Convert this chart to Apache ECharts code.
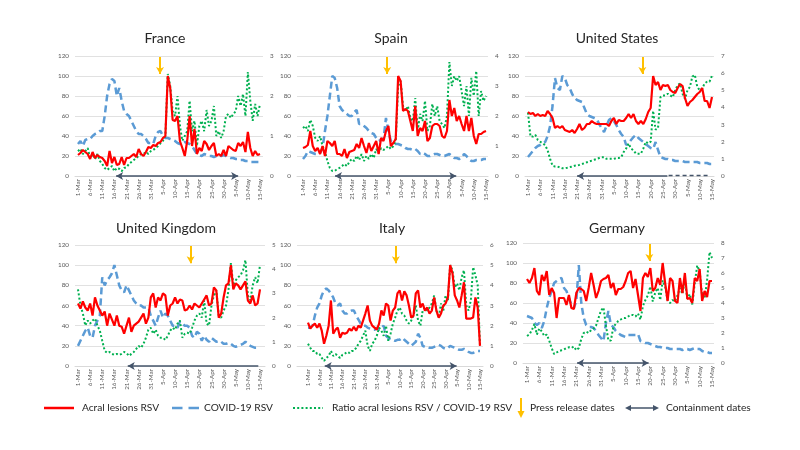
<!DOCTYPE html>
<html><head><meta charset="utf-8">
<script src="https://cdn.jsdelivr.net/npm/echarts@6/dist/echarts.min.js"></script>
<style>html,body{margin:0;padding:0;background:#fff}#c{width:800px;height:450px}</style>
</head><body><div id="c"></div>
<script>
// ---- categories (daily, 1-Mar .. 15-May) ----
const months = [['Mar', 31], ['Apr', 30], ['May', 15]];
const categories = [];
months.forEach(([m, n]) => { for (let d = 1; d <= n; d++) categories.push(d + '-' + m); });
const tickLabels = categories.filter((c, i) => i % 5 === 0);
const tickIdx = tickLabels.map(t => categories.indexOf(t));

const countries = ['France', 'Spain', 'United States', 'United Kingdom', 'Italy', 'Germany'];
const leftMax = 120, leftStep = 20;
const ratioMax = [3, 4, 7, 5, 6, 8];

// ---- series values ----
const franceAcral = [21,23,26,24,22, 17,24,18,21,19, 18,15,10,25,13, 19,11,12,19,11, 18,18,20,22,19, 27,22,20,24,29, 28,31,30,33,34, 38,40,100,88,56, 55,60,35,28,20, 35,60,30,47,22, 28,25,35,32,26, 30,33,20,22,20, 26,20,30,28,26, 25,33,30,34,24, 44,28,20,25,21, 22];
const franceCovid = [32,35,30,36,37, 37,40,42,43,45, 45,60,80,92,97, 95,80,88,75,65, 62,60,55,50,45, 42,42,40,37,33, 33,32,40,44,45, 40,38,38,37,36, 35,33,32,33,34, 33,32,30,26,22, 21,20,22,21,20, 20,19,20,21,20, 21,20,19,18,18, 17,17,16,16,15, 15,14,14,14,14, 14];
const franceRatio = [0.62,0.68,0.55,0.62,0.7, 0.45,0.55,0.42,0.55,0.38, 0.3,0.2,0.15,0.2,0.25, 0.12,0.2,0.18,0.12,0.2, 0.22,0.3,0.35,0.4,0.45, 0.5,0.55,0.55,0.6,0.55, 0.62,0.65,0.7,0.75,0.82, 0.88,1.0,2.55,2.25,1.62, 1.5,2.0,1.25,0.88,1.0, 1.12,1.88,1.12,1.38,0.75, 1.25,1.38,1.12,1.65,1.25, 1.38,1.75,1.0,1.12,0.95, 1.12,1.5,1.55,1.45,1.55, 1.62,2.0,1.75,2.05,1.5, 2.6,1.88,1.38,1.8,1.5, 1.8];

const spainAcral = [28,29,31,45,30, 25,28,22,30,20, 35,33,30,35,22, 22,20,27,18,24, 25,26,32,28,38, 30,23,33,25,30, 35,22,38,35,45, 50,30,33,37,100, 95,65,67,65,55, 45,70,40,48,45, 55,35,38,50,52, 52,50,40,38,45, 76,60,68,55,60, 52,45,60,45,58, 40,32,42,42,44, 45];
const spainCovid = [17,20,25,24,23, 22,22,23,28,45, 60,80,100,98,88, 70,66,64,62,60, 60,64,66,52,52, 50,48,45,43,42, 38,35,36,37,58, 45,35,33,32,32, 31,30,28,27,27, 26,27,25,22,23, 22,20,20,21,22, 22,21,20,20,21, 22,20,18,18,17, 18,22,20,17,15, 15,16,16,16,17, 17];
const spainRatio = [1.6,1.67,1.5,1.87,1.67, 1.27,1.17,1.33,1.0,0.83, 0.5,0.27,0.17,0.17,0.23, 0.27,0.33,0.4,0.33,0.47, 0.57,0.5,0.67,0.53,0.73, 0.5,0.67,0.57,0.73,0.6, 0.9,0.77,0.93,0.87,0.93, 1.0,0.9,1.0,1.17,3.0, 3.17,2.33,2.17,2.33,1.93, 1.83,2.6,1.5,2.07,1.83, 2.5,1.5,1.67,2.4,2.0, 2.33,1.83,1.73,1.6,2.0, 3.8,3.0,3.33,3.17,3.33, 2.83,2.33,3.0,2.0,3.27, 2.67,3.5,2.0,2.83,2.5, 2.67];

const usAcral = [64,62,63,60,62, 60,61,60,65,62, 58,48,50,48,50, 46,45,44,46,43, 47,52,46,48,52, 52,55,53,52,52, 52,52,52,50,55, 58,52,56,55,55, 58,62,58,62,55, 52,55,52,57,64, 68,100,91,94,86, 91,90,91,86,84, 83,88,92,90,78, 70,74,76,79,82, 84,88,75,75,68, 79];
const usCovid = [19,22,25,28,30, 31,33,34,40,50, 70,98,88,86,100, 98,91,88,82,78, 76,75,74,68,62, 60,59,58,57,52, 48,44,50,56,58, 55,51,46,42,39, 31,33,36,39,41, 38,36,34,32,30, 28,27,34,26,19, 18,17,17,16,16, 15,15,15,15,14, 14,14,14,14,14, 13,13,13,13,12, 12];
const usRatio = [3.7,2.3,2.3,2.4,2.1, 2.0,1.9,1.8,1.5,1.0, 0.6,0.55,0.55,0.5,0.45, 0.45,0.48,0.52,0.55,0.6, 0.62,0.65,0.7,0.75,0.8, 0.85,0.9,0.95,1.0,1.05, 1.1,1.1,1.0,1.0,1.0, 1.0,1.05,1.05,1.1,1.4, 1.6,1.9,1.6,1.5,1.3, 1.3,1.3,1.6,2.0,1.9, 2.0,3.8,2.7,2.8,4.6, 4.7,4.7,4.8,4.7,4.6, 5.0,5.3,5.4,4.8,4.5, 5.0,5.2,5.8,5.9,5.2, 5.0,5.1,5.4,5.5,5.5, 5.85];

const ukAcral = [62,57,64,58,55, 62,50,68,60,55, 50,54,40,52,46, 40,50,40,39,32, 40,48,34,40,42, 44,48,52,42,48, 68,72,58,68,65, 72,70,50,60,62, 68,62,66,65,55, 56,60,56,62,60, 58,62,66,70,60, 62,78,75,48,52, 68,80,82,100,76, 82,80,76,80,84, 65,62,70,60,62, 76];
const ukCovid = [20,25,30,35,38, 30,28,40,45,50, 88,80,85,88,92, 100,90,80,75,73, 80,75,70,65,62, 60,60,58,58,58, 50,45,40,48,55, 48,52,50,45,40, 40,38,44,42,40, 40,38,30,28,34, 32,25,30,26,24, 28,26,24,25,24, 22,22,23,22,20, 19,20,21,22,24, 22,20,19,18,18, 18];
const ukRatio = [3.17,2.5,2.17,1.67,1.88, 1.75,1.88,1.96,1.67,1.46, 1.04,0.63,0.54,0.58,0.5, 0.46,0.5,0.46,0.5,0.58, 0.54,0.42,0.5,0.58,0.71, 0.83,0.75,0.92,1.17,1.5, 1.58,1.33,1.5,1.25,1.17, 1.17,1.08,1.25,1.46,1.58, 1.5,1.75,1.88,1.17,1.33, 1.38,1.33,1.58,1.88,2.08, 2.17,2.0,2.71,1.75,1.67, 2.5,2.92,3.13,2.08,2.0, 2.29,2.5,3.13,4.25,3.33, 3.54,3.67,3.75,3.96,4.38, 2.92,2.71,3.33,3.67,3.42, 4.17];

const italyAcral = [43,37,40,42,38, 42,35,22,30,40, 65,32,36,38,28, 33,32,33,37,35, 39,35,40,38,45, 52,60,45,40,38, 36,42,55,50,62, 60,45,55,58,72, 75,65,74,70,60, 48,50,72,75,58, 62,55,58,52,55, 68,55,48,52,60, 62,68,100,92,70, 65,58,70,83,47, 47,47,48,68,58, 20];
const italyCovid = [38,38,40,50,58, 62,70,75,77,75, 72,68,62,60,62, 55,52,52,54,55, 55,50,46,42,40, 40,38,37,36,36, 38,36,38,40,30, 28,26,26,25,26, 26,28,26,24,22, 20,22,24,32,28, 20,19,19,18,18, 19,20,21,20,18, 17,18,20,19,18, 17,16,16,17,16, 14,13,13,14,15, 15];
const italyRatio = [1.1,0.9,0.75,0.75,0.6, 0.6,0.4,0.25,0.4,0.5, 0.75,0.5,0.6,0.5,0.4, 0.55,0.6,0.7,0.65,0.75, 0.75,0.9,1.1,1.25,1.5, 1.75,1.0,0.75,1.1,1.25, 1.5,1.9,1.75,1.5,2.0, 1.25,1.6,2.1,2.4,2.75, 2.9,2.6,2.5,2.25,2.1, 2.25,2.5,3.0,2.25,2.0, 2.75,2.9,2.75,2.9,3.1, 3.5,2.75,2.4,3.1,2.75, 3.5,3.25,5.0,4.75,3.9, 4.1,3.75,4.4,4.75,3.0, 2.75,3.25,4.9,4.5,4.0, 1.0];

const germanyAcral = [84,80,85,95,72, 68,88,82,92,68, 75,70,45,65,65, 65,58,68,55,54, 70,75,74,72,62, 75,90,78,65,72, 82,84,85,88,75, 80,68,74,74,76, 82,90,92,75,84, 68,52,85,90,86, 95,72,75,85,78, 100,80,62,85,82, 62,60,85,70,90, 64,65,60,85,82, 94,62,72,66,82, 82];
const germanyCovid = [47,46,45,40,38, 40,35,42,55,65, 72,80,82,84,85, 75,72,65,58,55, 62,98,60,45,38, 36,36,35,32,28, 25,22,40,52,38, 36,32,30,28,27, 26,28,28,28,28, 29,22,21,20,20, 19,18,17,16,16, 15,15,15,14,14, 14,14,14,13,14, 14,13,14,15,14, 14,12,11,11,10, 10];
const germanyRatio = [1.8,1.9,2.2,2.6,1.9, 2.3,2.1,1.8,1.9,1.5, 1.0,0.6,0.7,0.8,0.85, 0.9,1.0,1.05,1.0,1.1, 0.85,1.0,1.6,2.0,2.1, 2.0,2.2,2.3,2.5,3.0, 3.5,3.7,2.5,1.5,1.5, 2.4,2.6,2.8,2.9,3.0, 3.0,3.1,3.2,3.2,3.1, 3.3,2.9,3.8,4.2,4.5, 5.1,4.1,4.7,5.0,4.2, 5.5,5.1,4.2,4.0,4.2, 4.1,4.5,5.0,4.6,5.5, 4.3,4.6,3.9,5.3,6.5, 6.1,4.5,4.3,5.5,7.4, 7.0];

// ---- annotations (day index positions) ----
const pressIdx = [33.8, 34.5, 46.6, 46.4, 38.3, 49.6];
const containStart = [15.7, 13.1, 20.0, 20.5, 7.3, 20.3];
const containEnd = [66.0, 62.8, 56.8, 74.3, 64.8, 49.3];
const containHeads = [['arrow','arrow'], ['arrow','arrow'], ['arrow','none'], ['arrow','none'], ['arrow','arrow'], ['arrow','arrow']];
const usExpectedContain = [57.3, 74.3];

const acral = [franceAcral, spainAcral, usAcral, ukAcral, italyAcral, germanyAcral];
const covid = [franceCovid, spainCovid, usCovid, ukCovid, italyCovid, germanyCovid];
const ratio = [franceRatio, spainRatio, usRatio, ukRatio, italyRatio, germanyRatio];

// ---- layout (pixels): grid edges, first/last day positions ----
const layout = [
  {gl: 75,  gr: 263, x0: 78,  x75: 260, top: 56,  h: 120, tx: 165, ty: 38},
  {gl: 297, gr: 488, x0: 303, x75: 486, top: 56,  h: 120, tx: 391, ty: 38},
  {gl: 525, gr: 714, x0: 528, x75: 712, top: 56,  h: 120, tx: 617, ty: 38},
  {gl: 75,  gr: 265, x0: 78,  x75: 260, top: 245, h: 121, tx: 166, ty: 228},
  {gl: 297, gr: 483, x0: 308, x75: 480, top: 245, h: 121, tx: 392, ty: 228},
  {gl: 523, gr: 714, x0: 527, x75: 712, top: 243, h: 120, tx: 617, ty: 228}
];
const FONT = 'Lato';
const labelColor = '#595959';

const grids = [], xAxes = [], yAxes = [], series = [], graphics = [];
const pairs = arr => categories.map((c, k) => [k, arr[k]]);

layout.forEach((L, i) => {
  const d = (L.x75 - L.x0) / 75;
  const xmin = -(L.x0 - L.gl) / d, xmax = 75 + (L.gr - L.x75) / d;
  grids.push({left: L.gl, top: L.top, width: L.gr - L.gl, height: L.h});
  xAxes.push({
    type: 'value', gridIndex: i, min: xmin, max: xmax,
    splitLine: {show: false},
    axisLine: {show: true, onZero: false, lineStyle: {color: '#d9d9d9', width: 1}},
    axisTick: {show: false},
    axisLabel: {customValues: tickIdx, formatter: v => categories[v] || '', rotate: 90,
      fontSize: 6.3, color: labelColor, margin: 3, fontFamily: FONT}
  });
  yAxes.push({
    type: 'value', gridIndex: i, min: 0, max: leftMax, interval: leftStep, position: 'left',
    axisLine: {show: false}, axisTick: {show: false},
    splitLine: {show: true, lineStyle: {color: '#d9d9d9', width: 0.8}},
    axisLabel: {fontSize: 6.3, color: labelColor, margin: 6, fontFamily: FONT}
  });
  yAxes.push({
    type: 'value', gridIndex: i, min: 0, max: ratioMax[i], interval: 1, position: 'right',
    axisLine: {show: false}, axisTick: {show: false}, splitLine: {show: false},
    axisLabel: {fontSize: 6.3, color: labelColor, margin: 7, fontFamily: FONT}
  });

  series.push({
    type: 'line', name: 'COVID-19 RSV', xAxisIndex: i, yAxisIndex: 2 * i, data: pairs(covid[i]),
    showSymbol: false, silent: true, z: 2,
    lineStyle: {color: '#5B9BD5', width: 2.5, type: [7, 4]}
  });
  series.push({
    type: 'line', name: 'Ratio', xAxisIndex: i, yAxisIndex: 2 * i + 1, data: pairs(ratio[i]),
    showSymbol: false, silent: true, z: 3,
    lineStyle: {color: '#00B050', width: 2, type: [2, 2.2]}
  });

  const ml = [
    [{coord: [pressIdx[i], 119], symbol: 'none', lineStyle: {color: '#FFC000', width: 2, type: 'solid'}},
     {coord: [pressIdx[i], 102], symbol: 'arrow', symbolSize: [6, 7]}],
    [{coord: [containStart[i], 0], symbol: containHeads[i][0], symbolSize: [6, 7],
      lineStyle: {color: '#44546A', width: 1.5, type: 'solid'}},
     {coord: [containEnd[i], 0], symbol: containHeads[i][1], symbolSize: [6, 7]}]
  ];
  if (i === 2) {
    ml.push([{coord: [usExpectedContain[0], 1], symbol: 'none', lineStyle: {color: '#44546A', width: 1.3, type: [4, 3]}},
             {coord: [usExpectedContain[1], 1], symbol: 'none'}]);
  }
  series.push({
    type: 'line', name: 'Acral lesions RSV', xAxisIndex: i, yAxisIndex: 2 * i, data: pairs(acral[i]),
    showSymbol: false, silent: true, z: 4,
    lineStyle: {color: '#FF0000', width: 2.2},
    markLine: {silent: true, animation: false, label: {show: false}, symbol: ['none', 'none'],
      emphasis: {disabled: true}, data: ml}
  });

  graphics.push({type: 'text', x: L.tx, y: L.ty, style: {text: countries[i], fontSize: 14,
    fontFamily: FONT, fill: '#262626', textAlign: 'center', textVerticalAlign: 'middle'}});
});

// ---- legend ----
const LY = 408;
const legTxt = (x, t) => ({type: 'text', x: x, y: LY, style: {text: t, fontSize: 10.2, fontFamily: FONT,
  fill: '#262626', textVerticalAlign: 'middle'}});
graphics.push(
  {type: 'line', shape: {x1: 44, y1: LY, x2: 74, y2: LY}, style: {stroke: '#FF0000', lineWidth: 2.5}},
  legTxt(82, 'Acral lesions RSV'),
  {type: 'line', shape: {x1: 172, y1: LY, x2: 199, y2: LY}, style: {stroke: '#5B9BD5', lineWidth: 2.5, lineDash: [10.5, 6]}},
  legTxt(204, 'COVID-19 RSV'),
  {type: 'line', shape: {x1: 293, y1: LY, x2: 323, y2: LY}, style: {stroke: '#00B050', lineWidth: 2, lineDash: [2, 2.2]}},
  legTxt(332, 'Ratio acral lesions RSV / COVID-19 RSV'),
  {type: 'line', shape: {x1: 521, y1: 398, x2: 521, y2: 412}, style: {stroke: '#FFC000', lineWidth: 2}},
  {type: 'polygon', shape: {points: [[517.5, 411], [524.5, 411], [521, 418]]}, style: {fill: '#FFC000'}},
  legTxt(530, 'Press release dates'),
  {type: 'line', shape: {x1: 628, y1: LY, x2: 656, y2: LY}, style: {stroke: '#44546A', lineWidth: 1.5}},
  {type: 'polygon', shape: {points: [[625, LY], [631, LY - 3], [631, LY + 3]]}, style: {fill: '#44546A'}},
  {type: 'polygon', shape: {points: [[659, LY], [653, LY - 3], [653, LY + 3]]}, style: {fill: '#44546A'}},
  legTxt(666, 'Containment dates')
);

const chart = echarts.init(document.getElementById('c'), null, {renderer: 'canvas'});
chart.setOption({
  animation: false,
  backgroundColor: '#ffffff',
  textStyle: {fontFamily: FONT},
  grid: grids, xAxis: xAxes, yAxis: yAxes, series: series, graphic: graphics
});
</script>
</body></html>
